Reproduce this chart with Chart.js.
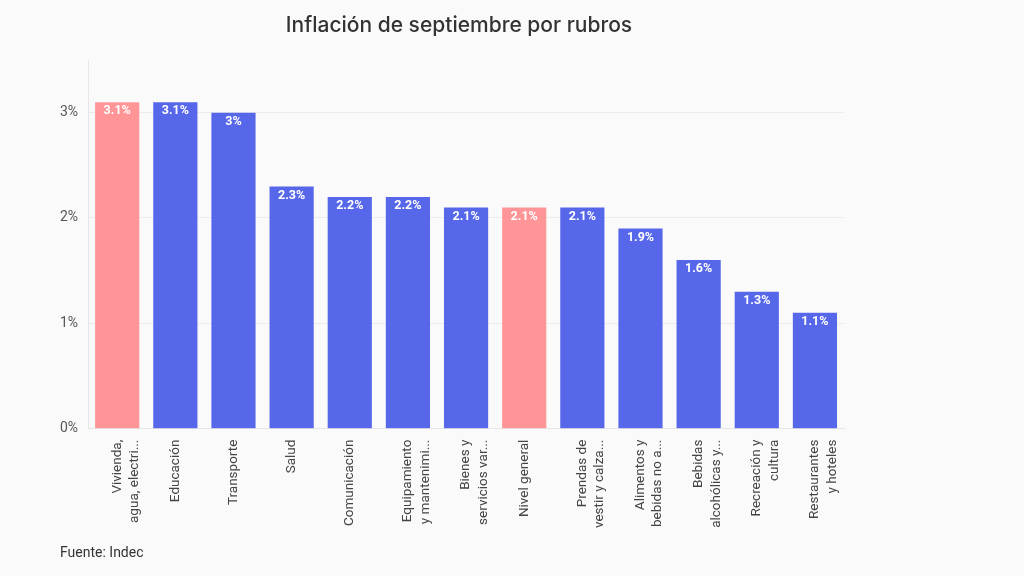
<!DOCTYPE html>
<html>
<head>
<meta charset="utf-8">
<script src="https://cdn.jsdelivr.net/npm/chart.js@4/dist/chart.umd.min.js"></script>
<style>
  html, body { margin: 0; padding: 0; background: #fafafa; }
  #wrap { width: 1024px; height: 576px; position: relative; }
  #titulo {
    position: absolute; left: 0; top: 12px; width: 918px;
    text-align: center; font-family: Inter, sans-serif; font-size: 21px;
    font-weight: 500; color: #333333;
  }
  #fuente {
    position: absolute; left: 60px; top: 544px;
    font-family: Roboto, sans-serif; font-size: 14px; color: #333333;
  }
</style>
</head>
<body>
<div id="wrap">
  <canvas id="myChart" width="1024" height="576"></canvas>
  <div id="titulo">Inflación de septiembre por rubros</div>
  <div id="fuente">Fuente: Indec</div>
</div>
<script>
// rubros, in the order shown
const rubros = [
    ['Vivienda,', 'agua, electri...'],
    'Educación',
    'Transporte',
    'Salud',
    'Comunicación',
    ['Equipamiento', 'y mantenimi...'],
    ['Bienes y', 'servicios var...'],
    'Nivel general',
    ['Prendas de', 'vestir y calza...'],
    ['Alimentos y', 'bebidas no a...'],
    ['Bebidas', 'alcohólicas y...'],
    ['Recreación y', 'cultura'],
    ['Restaurantes', 'y hoteles']
];
const inflacion = [3.1, 3.1, 3.0, 2.3, 2.2, 2.2, 2.1, 2.1, 2.1, 1.9, 1.6, 1.3, 1.1];
const yTicks = [0, 1, 2, 3];
const destacados = [0, 7]; // bars in pink

const azul = '#5767ea';
const rosa = '#ff9597';

// white value labels at the top of each bar
const barLabels = {
    id: 'barLabels',
    afterDatasetsDraw(chart) {
        const ctx = chart.ctx;
        const meta = chart.getDatasetMeta(0);
        ctx.save();
        ctx.fillStyle = '#ffffff';
        ctx.font = 'bold 12.5px Roboto';
        ctx.textAlign = 'center';
        ctx.textBaseline = 'middle';
        meta.data.forEach(function (bar, i) {
            ctx.fillText(inflacion[i] + '%', bar.x, bar.y + 9);
        });
        ctx.restore();
    }
};

const ctx = document.getElementById('myChart');
new Chart(ctx, {
    type: 'bar',
    data: {
        labels: rubros,
        datasets: [{
            data: inflacion,
            backgroundColor: inflacion.map((v, i) => destacados.includes(i) ? rosa : azul),
            borderWidth: 0,
            barPercentage: 0.76,
            categoryPercentage: 1
        }]
    },
    options: {
        responsive: false,
        animation: false,
        layout: { padding: { left: 50, right: 180, top: 60, bottom: 45 } },
        plugins: {
            legend: { display: false },
            tooltip: { enabled: false }
        },
        scales: {
            x: {
                grid: { display: false },
                border: { color: '#e6e6e6' },
                ticks: {
                    color: '#444444',
                    font: { family: 'Roboto', size: 13.5, lineHeight: 1.3 },
                    minRotation: 90,
                    maxRotation: 90,
                    autoSkip: false,
                    padding: 3
                }
            },
            y: {
                min: 0,
                max: 3.5,
                afterBuildTicks(axis) {
                    axis.ticks = yTicks.map(v => ({ value: v }));
                },
                grid: { color: '#ececec', drawTicks: false },
                border: { color: '#e6e6e6' },
                ticks: {
                    color: '#555555',
                    font: { family: 'Roboto', size: 14 },
                    padding: 10,
                    callback: v => v + '%'
                }
            }
        }
    },
    plugins: [barLabels]
});
</script>
</body>
</html>
